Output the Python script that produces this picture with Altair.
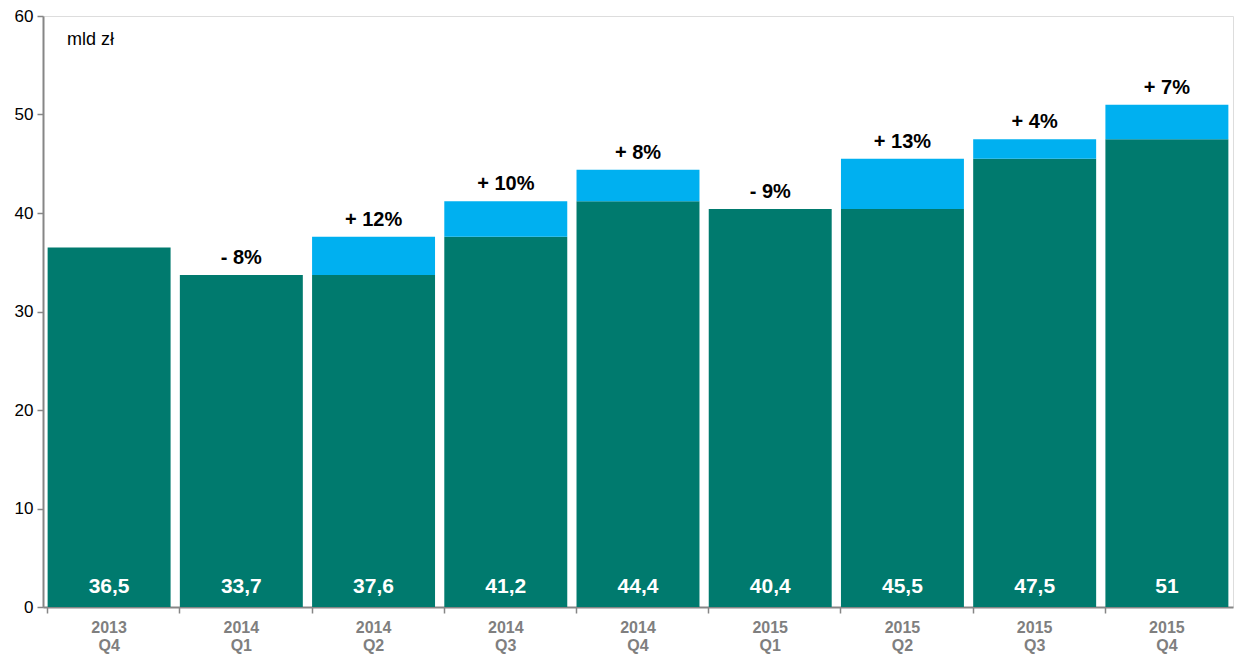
import altair as alt
import pandas as pd

quarters = ["2013 Q4", "2014 Q1", "2014 Q2", "2014 Q3", "2014 Q4",
            "2015 Q1", "2015 Q2", "2015 Q3", "2015 Q4"]
values = [36.5, 33.7, 37.6, 41.2, 44.4, 40.4, 45.5, 47.5, 51.0]
value_labels = ["36,5", "33,7", "37,6", "41,2", "44,4", "40,4", "45,5", "47,5", "51"]
change_labels = ["", "- 8%", "+ 12%", "+ 10%", "+ 8%", "- 9%", "+ 13%", "+ 4%", "+ 7%"]

prev = [None] + values[:-1]
base = [v if (p is None or v <= p) else p for v, p in zip(values, prev)]

df = pd.DataFrame({
    "q": quarters,
    "value": values,
    "base": base,
    "vlabel": value_labels,
    "clabel": change_labels,
})

FONT = "Liberation Sans"
DARK = "#007A6E"
LIGHT = "#00B0F0"
GRAY = "#868686"
H = 591

xenc = alt.X("q:N", sort=quarters, title=None,
             scale=alt.Scale(paddingInner=0.07, paddingOuter=0.035),
             axis=alt.Axis(labelExpr="split(datum.label, ' ')", labelAngle=0,
                           labelFont=FONT, labelFontSize=16, labelFontWeight="bold",
                           labelColor="#7F7F7F", labelLineHeight=18, labelPadding=6,
                           bandPosition=0, tickColor=GRAY, tickSize=6, tickWidth=1.5,
                           domainColor=GRAY, domainWidth=2, grid=False))
yscale = alt.Scale(domain=[0, 60], nice=False)

base_chart = alt.Chart(df)

dark = base_chart.mark_bar(color=DARK).encode(
    x=xenc,
    y=alt.Y("base:Q", scale=yscale, title=None,
            axis=alt.Axis(values=[0, 10, 20, 30, 40, 50, 60], labelFont=FONT,
                          labelFontSize=17, labelColor="#000000", labelPadding=4,
                          tickColor=GRAY, tickSize=6, tickWidth=1.5,
                          domainColor=GRAY, domainWidth=2, grid=False)),
)

light = base_chart.transform_filter("datum.value > datum.base").mark_bar(color=LIGHT).encode(
    x=alt.X("q:N", sort=quarters),
    y=alt.Y("base:Q", scale=yscale),
    y2="value:Q",
)

vtext = base_chart.mark_text(color="white", font=FONT, fontSize=21, fontWeight="bold",
                             baseline="middle").encode(
    x=alt.X("q:N", sort=quarters),
    y=alt.value(H - 20),
    text="vlabel:N",
)

ctext = base_chart.mark_text(color="black", font=FONT, fontSize=20, fontWeight="bold",
                             baseline="middle", dy=-17).encode(
    x=alt.X("q:N", sort=quarters),
    y=alt.Y("value:Q", scale=yscale),
    text="clabel:N",
)

unit = alt.Chart(pd.DataFrame({"t": ["mld zł"]})).mark_text(
    font=FONT, fontSize=18, color="black", align="left", baseline="middle").encode(
    x=alt.value(24), y=alt.value(24), text="t:N")

chart = alt.layer(dark, light, vtext, ctext, unit).properties(
    width=1190, height=H,
    autosize=alt.AutoSizeParams(type="none"),
    padding={"left": 35, "top": 8, "right": 14, "bottom": 47},
).configure_view(stroke=GRAY, strokeWidth=2).configure(background="white")

chart.save("out.html", embed_options={"renderer": "svg", "actions": False})
